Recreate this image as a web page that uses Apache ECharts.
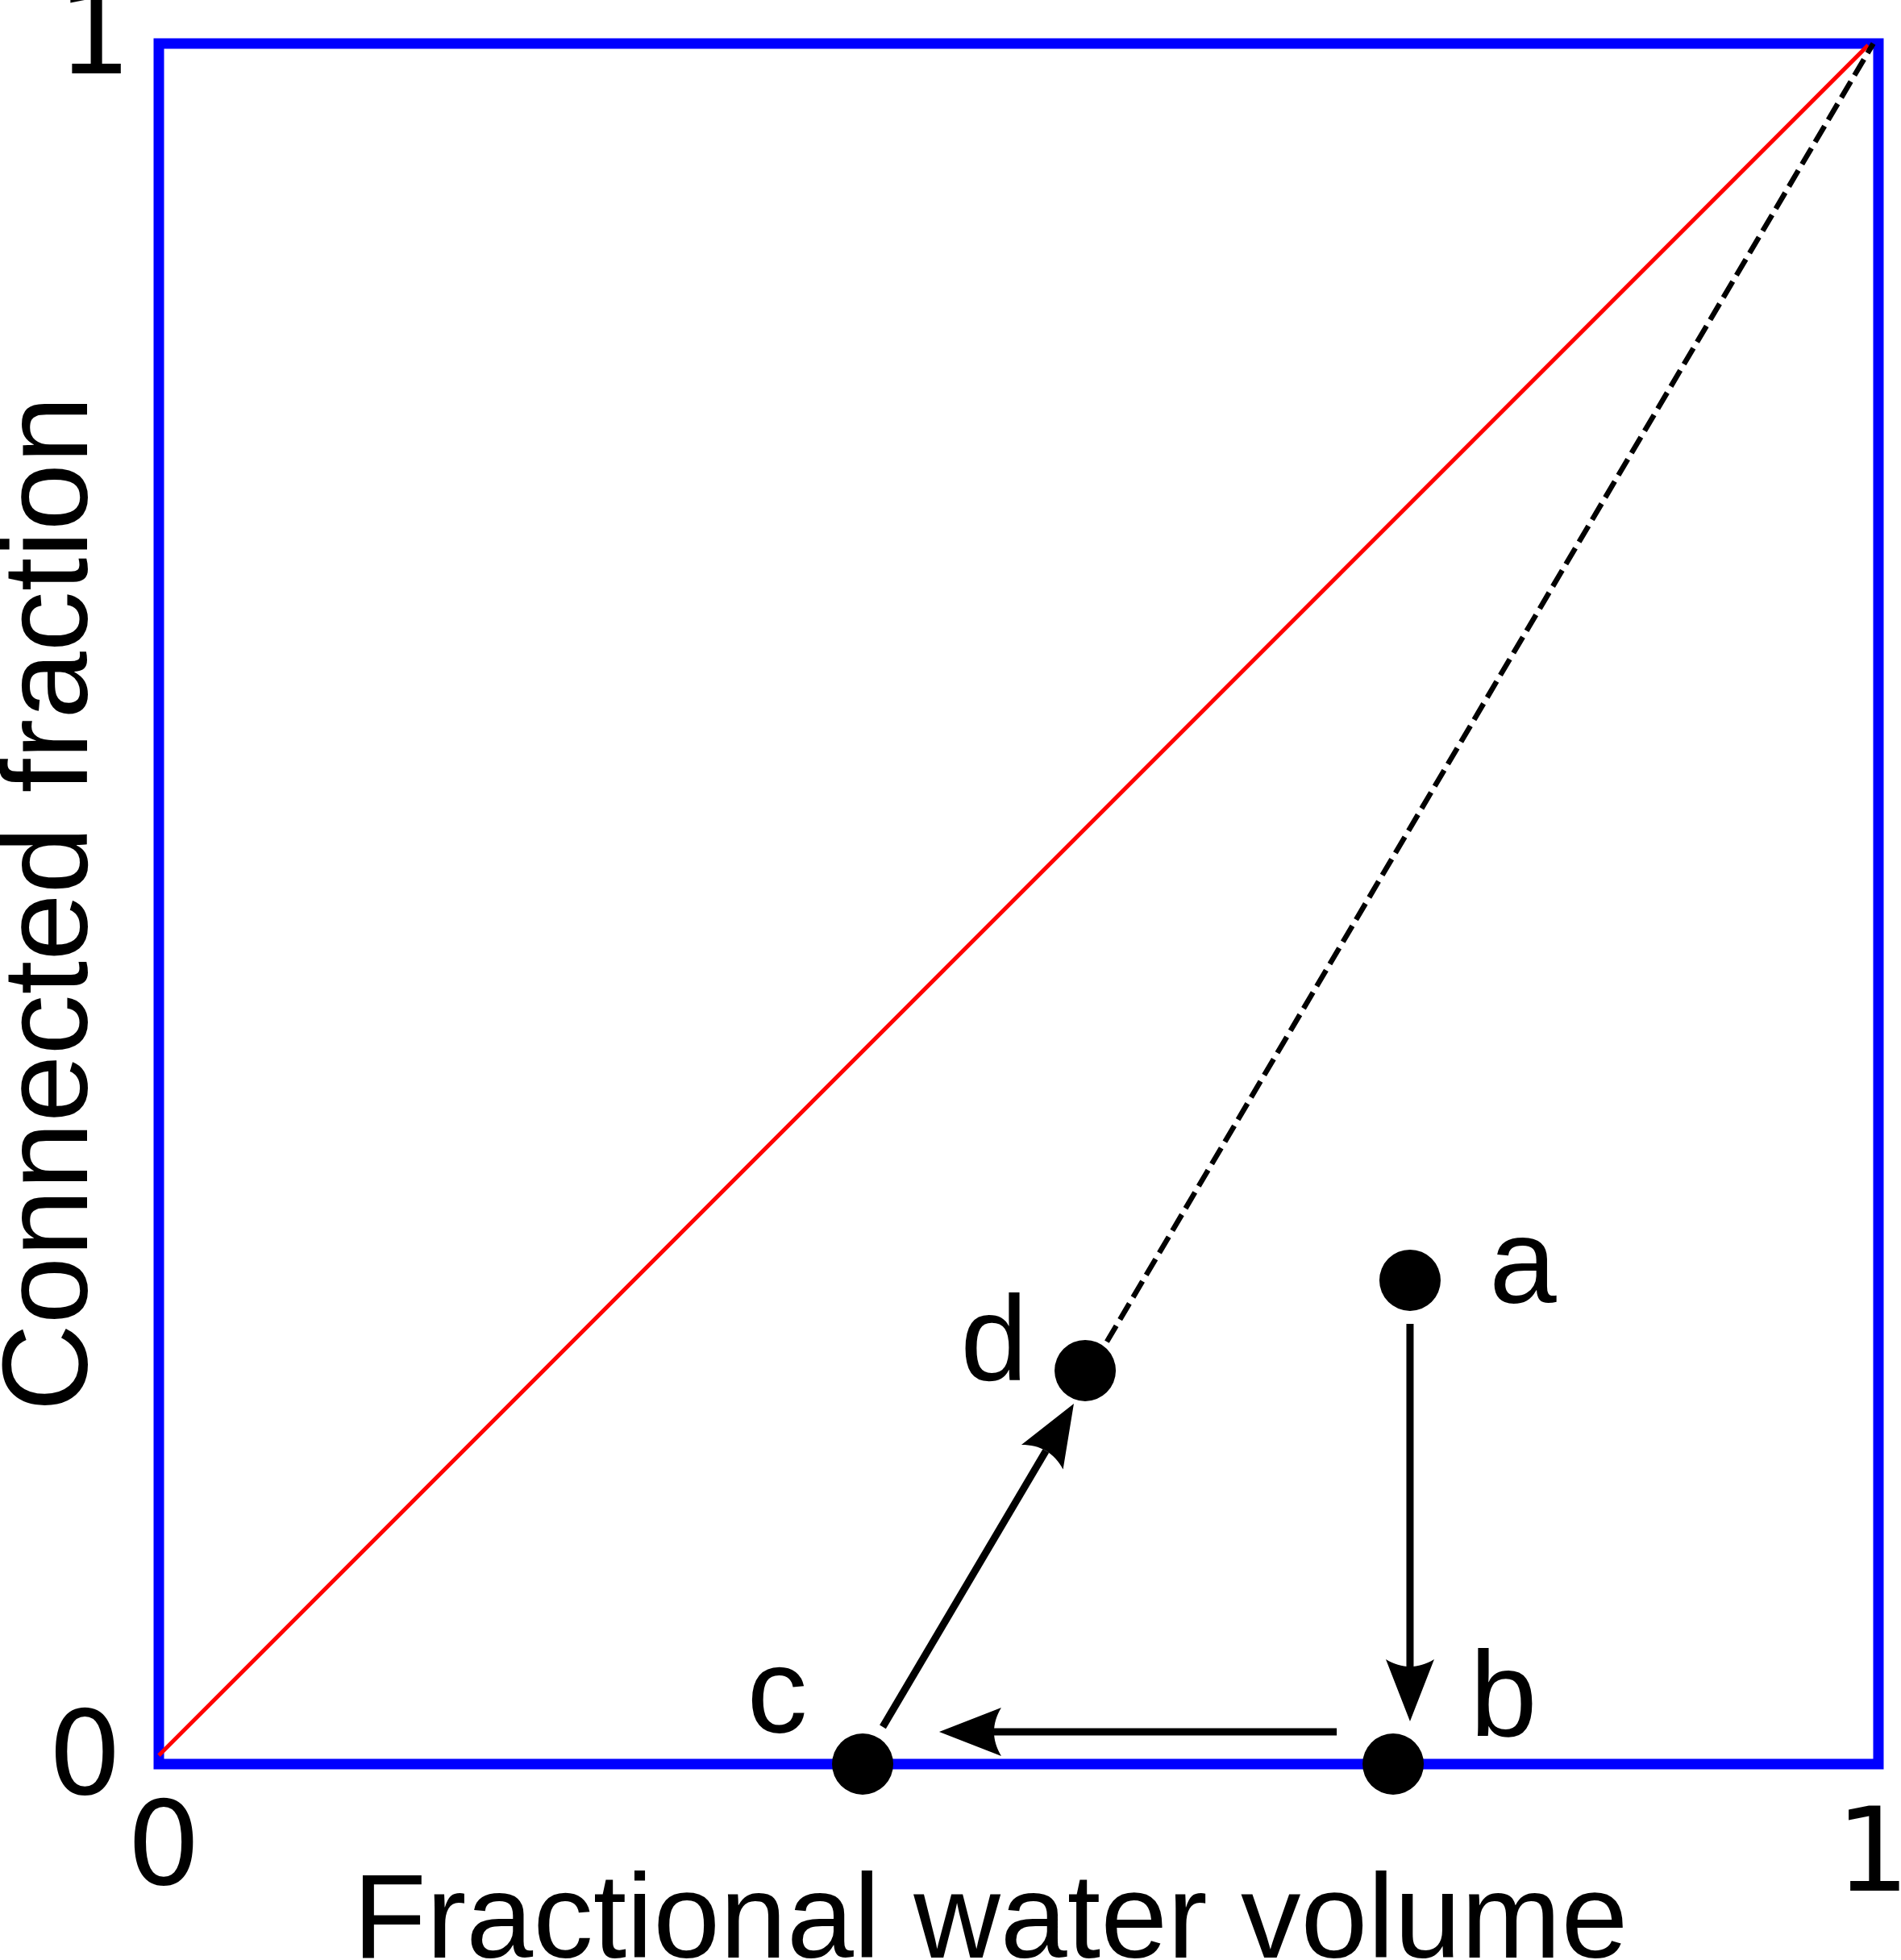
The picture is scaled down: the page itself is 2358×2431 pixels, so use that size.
<!DOCTYPE html>
<html><head><meta charset="utf-8">
<script src="https://cdn.jsdelivr.net/npm/echarts@6/dist/echarts.min.js"></script>
<style>html,body{margin:0;padding:0;background:#fff}#c{width:2358px;height:2431px}</style>
</head><body><div id="c"></div>
<script>
// ---- data ----
const xTickValues = [0, 1];
const yTickValues = [0, 1];
const xAxisTitle = 'Fractional water volume';
const yAxisTitle = 'Connected fraction';
const pointNames = ['a', 'b', 'c', 'd'];
const pointX = [0.7276, 0.7178, 0.4093, 0.5387];
const pointY = [0.2812, 0.0, 0.0, 0.2287];
const diagonalX = [0, 0.994];
const diagonalY = [0.005, 0.999];
const dashedX = [0.5513, 0.997];
const dashedY = [0.2455, 1.0];
const arrowFromX = [0.7276, 0.685, 0.421];
const arrowFromY = [0.2559, 0.0187, 0.0216];
const arrowToX = [0.7276, 0.4538, 0.5321];
const arrowToY = [0.0248, 0.0187, 0.2095];

// ---- layout (not data) ----
const labelOffsets = { a: [140, -13], b: [137, -76], c: [-106, -80], d: [-113, -29] };
const TICK_FONT = 'DejaVu Sans';
const TEXT_FONT = 'Liberation Sans';

const chart = echarts.init(document.getElementById('c'), null, { renderer: 'canvas' });

function arrowItem(params, api) {
  const p1 = api.coord([api.value(0), api.value(1)]);
  const p2 = api.coord([api.value(2), api.value(3)]);
  const dx = p2[0] - p1[0], dy = p2[1] - p1[1];
  const len = Math.sqrt(dx * dx + dy * dy);
  const ux = dx / len, uy = dy / len;
  const px = -uy, py = ux;
  const L = 77, W = 30, N = 9;
  const bx = p2[0] - ux * L, by = p2[1] - uy * L;
  const nx = bx + ux * N, ny = by + uy * N;
  const pts = [[p2[0], p2[1]]];
  function curve(sign) {
    const barb = [bx + px * W * sign, by + py * W * sign];
    const ctrl = [nx + px * W * 0.5 * sign, ny + py * W * 0.5 * sign];
    const out = [];
    for (let i = 0; i <= 8; i++) {
      const t = i / 8;
      out.push([
        (1 - t) * (1 - t) * barb[0] + 2 * t * (1 - t) * ctrl[0] + t * t * nx,
        (1 - t) * (1 - t) * barb[1] + 2 * t * (1 - t) * ctrl[1] + t * t * ny
      ]);
    }
    return out;
  }
  const right = curve(1);
  const left = curve(-1).reverse();
  right.forEach(p => pts.push(p));
  left.slice(1).forEach(p => pts.push(p));
  return {
    type: 'group',
    children: [
      { type: 'line', shape: { x1: p1[0], y1: p1[1], x2: nx, y2: ny }, style: { stroke: '#000', lineWidth: 9 } },
      { type: 'polygon', shape: { points: pts }, style: { fill: '#000' } }
    ]
  };
}

const option = {
  animation: false,
  backgroundColor: '#ffffff',
  grid: {
    left: 197, top: 54, width: 2133, height: 2134,
    containLabel: false, outerBoundsMode: 'none',
    show: true, borderColor: '#0000ff', borderWidth: 13, backgroundColor: 'transparent'
  },
  xAxis: {
    type: 'value', min: 0, max: 1, interval: 1,
    axisLine: { show: false }, axisTick: { show: false }, splitLine: { show: false },
    axisLabel: {
      margin: 40,
      formatter: v => (v === xTickValues[0] ? '{z|' + v + '}' : '{o|' + v + '}'),
      rich: {
        z: { fontFamily: TICK_FONT, fontSize: 144, lineHeight: 144, color: '#000', padding: [0, 0, 0, 12] },
        o: { fontFamily: TICK_FONT, fontSize: 144, lineHeight: 144, color: '#000', padding: [15, 14, 0, 0] }
      }
    },
    name: xAxisTitle, nameLocation: 'middle', nameGap: 124, nameMoveOverlap: false,
    nameTextStyle: { fontFamily: TEXT_FONT, fontSize: 149, lineHeight: 149, color: '#000', padding: [0, 70, 0, 0] }
  },
  yAxis: {
    type: 'value', min: 0, max: 1, interval: 1,
    axisLine: { show: false }, axisTick: { show: false }, splitLine: { show: false },
    axisLabel: {
      margin: 34,
      formatter: v => (v === yTickValues[0] ? '{z|' + v + '}' : '{o|' + v + '}'),
      rich: {
        z: { fontFamily: TICK_FONT, fontSize: 144, lineHeight: 144, color: '#000', padding: [0, 12, 0, 0] },
        o: { fontFamily: TICK_FONT, fontSize: 144, lineHeight: 144, color: '#000' }
      }
    },
    name: yAxisTitle, nameLocation: 'middle', nameGap: 55, nameMoveOverlap: false,
    nameTextStyle: { fontFamily: TEXT_FONT, fontSize: 150, lineHeight: 150, color: '#000' }
  },
  series: [
    {
      type: 'line', symbol: 'none', clip: false, z: 3,
      data: diagonalX.map((x, i) => [x, diagonalY[i]]),
      lineStyle: { color: '#ff0000', width: 5 }
    },
    {
      type: 'line', symbol: 'none', clip: false, z: 3,
      data: dashedX.map((x, i) => [x, dashedY[i]]),
      lineStyle: { color: '#000', width: 6.5, type: [23, 9] }
    },
    {
      type: 'custom', clip: false, z: 4,
      renderItem: arrowItem,
      encode: { x: [0, 2], y: [1, 3] },
      data: arrowFromX.map((x, i) => [x, arrowFromY[i], arrowToX[i], arrowToY[i]])
    },
    {
      type: 'scatter', symbol: 'circle', symbolSize: 76, clip: false, z: 5,
      itemStyle: { color: '#000', opacity: 1 },
      emphasis: { disabled: true },
      label: {
        show: true, position: 'inside', formatter: '{b}', color: '#000', opacity: 1,
        fontFamily: TEXT_FONT, fontSize: 150, lineHeight: 150
      },
      data: pointNames.map((n, i) => ({
        name: n, value: [pointX[i], pointY[i]],
        label: { offset: labelOffsets[n] }
      }))
    }
  ]
};
chart.setOption(option);
</script>
</body></html>
